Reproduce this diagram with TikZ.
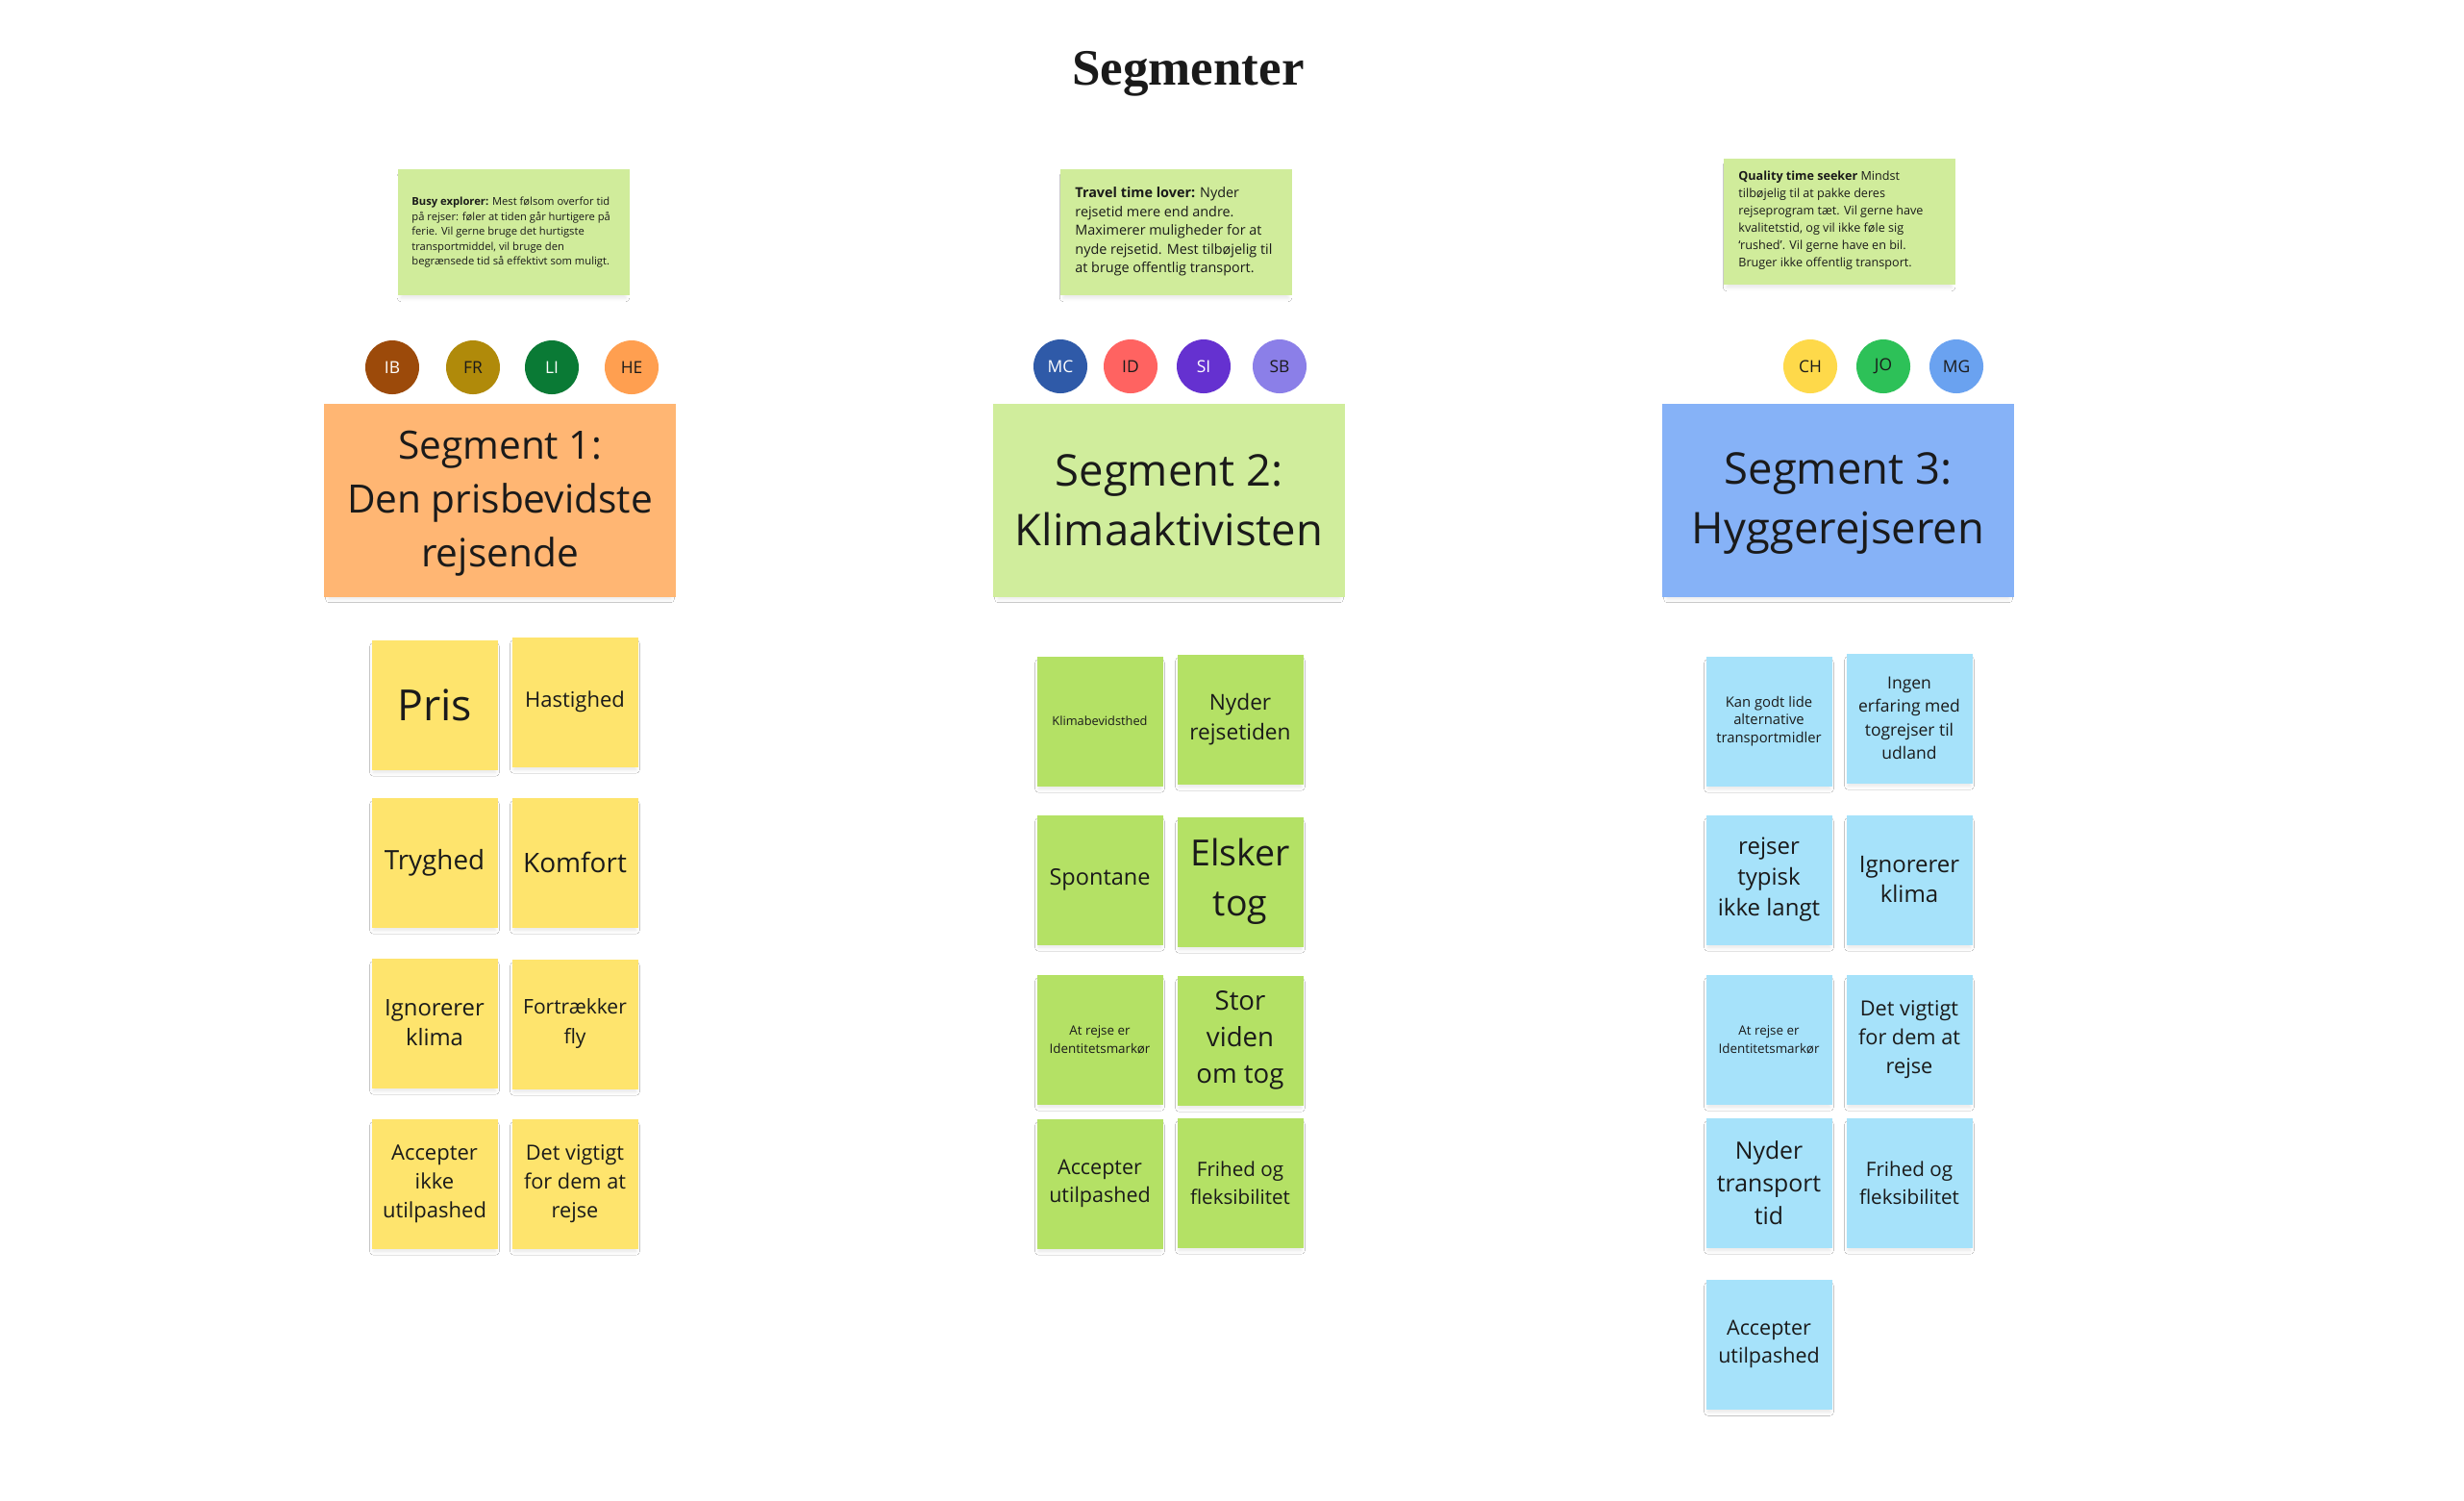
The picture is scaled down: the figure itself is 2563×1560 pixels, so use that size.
\documentclass[tikz,border=0pt]{standalone}
\usepackage{fontspec}
\setmainfont{Open Sans}
\newfontfamily\titlefont{Liberation Serif}
\usetikzlibrary{shadows.blur}
\definecolor{ink}{HTML}{1A1A1A}
\definecolor{notegreen}{HTML}{D0EC9B}
\definecolor{segorange}{HTML}{FFB673}
\definecolor{seggreen}{HTML}{D0ED9C}
\definecolor{segblue}{HTML}{86B2F7}
\definecolor{styellow}{HTML}{FEE46D}
\definecolor{stgreen}{HTML}{B4E165}
\definecolor{stblue}{HTML}{A6E2FA}
\definecolor{cIB}{HTML}{9C4A0A}
\definecolor{cFR}{HTML}{B08A0A}
\definecolor{cLI}{HTML}{0A7A35}
\definecolor{cHE}{HTML}{FF9F50}
\definecolor{cMC}{HTML}{2F5AA8}
\definecolor{cID}{HTML}{FF6361}
\definecolor{cSI}{HTML}{6531D0}
\definecolor{cSB}{HTML}{8B7FE8}
\definecolor{cCH}{HTML}{FED94A}
\definecolor{cJO}{HTML}{2DC158}
\definecolor{cMG}{HTML}{6AA2F0}
\newcommand\fsz[2]{\fontsize{#1}{#2}\selectfont}
\tikzset{
  softshadow/.style={blur shadow={shadow xshift=0pt, shadow yshift=-2.5pt, shadow scale=0.97, shadow blur radius=2pt, shadow blur steps=6, shadow opacity=10}},
  sticky/.style={minimum width=65.5pt, minimum height=67.5pt, inner sep=0pt, align=center, text=ink, softshadow},
  yst/.style={sticky, fill=styellow},
  gst/.style={sticky, fill=stgreen},
  bst/.style={sticky, fill=stblue},
  notebox/.style={minimum width=120.5pt, minimum height=65.5pt, inner sep=0pt, fill=notegreen, softshadow},
  notetext/.style={anchor=west, align=left, inner sep=0pt, text=ink},
  segbox/.style={minimum width=183pt, minimum height=100.5pt, inner sep=0pt, align=center, text=ink, softshadow},
  avatar/.style={circle, minimum size=28pt, inner sep=0pt, font=\fsz{8.7pt}{10pt}},
}
\begin{document}
\begin{tikzpicture}[x=0.5pt, y=-0.5pt]
\useasboundingbox[fill=white] (0,0) rectangle (2563,1560);

% title
\node[anchor=base, inner sep=0pt, text=ink] (title) at (1236,88) {\titlefont\bfseries\fsz{26.5pt}{30pt}Segmenter};

% persona notes
\node[notebox] (n1) at (534,241.5) {};
\node[notetext, font=\fsz{5.6pt}{7.75pt}] (n1t) at (428,242) {\textbf{Busy explorer:} Mest følsom overfor tid\\på rejser: føler at tiden går hurtigere på\\ferie. Vil gerne bruge det hurtigste\\transportmiddel, vil bruge den\\begrænsede tid så effektivt som muligt.};
\node[notebox] (n2) at (1223,241.5) {};
\node[notetext, font=\fsz{7.2pt}{9.8pt}] (n2t) at (1118,241) {\textbf{Travel time lover:} Nyder\\rejsetid mere end andre.\\Maximerer muligheder for at\\nyde rejsetid. Mest tilbøjelig til\\at bruge offentlig transport.};
\node[notebox] (n3) at (1913,230.5) {};
\node[notetext, font=\fsz{6.3pt}{9pt}] (n3t) at (1808,229) {\textbf{Quality time seeker} Mindst\\tilbøjelig til at pakke deres\\rejseprogram tæt. Vil gerne have\\kvalitetstid, og vil ikke føle sig\\‘rushed’. Vil gerne have en bil.\\Bruger ikke offentlig transport.};

% avatars
\node[avatar, fill=cIB, text=white] (IB) at (408,382) {IB};
\node[avatar, fill=cFR, text=ink] (FR) at (492,382) {FR};
\node[avatar, fill=cLI, text=white] (LI) at (574,382) {LI};
\node[avatar, fill=cHE, text=ink] (HE) at (657,382) {HE};
\node[avatar, fill=cMC, text=white] (MC) at (1103,381) {MC};
\node[avatar, fill=cID, text=ink] (ID) at (1176,381) {ID};
\node[avatar, fill=cSI, text=white] (SI) at (1252,381) {SI};
\node[avatar, fill=cSB, text=ink] (SB) at (1331,381) {SB};
\node[avatar, fill=cCH, text=ink] (CH) at (1883,381) {CH};
\node[avatar, fill=cJO, text=ink] (JO) at (1959,381) {JO};
\node[avatar, fill=cMG, text=ink] (MG) at (2035,381) {MG};

% segment headers
\node[segbox, fill=segorange] (s1) at (520,520.5) {};
\node[align=center, text=ink, inner sep=0pt, font=\fsz{20.3pt}{28pt}] (s1t) at (520,523.5) {Segment 1:\\Den prisbevidste\\rejsende};
\node[segbox, fill=seggreen] (s2) at (1216,520.5) {};
\node[align=center, text=ink, inner sep=0pt, font=\fsz{22.7pt}{31pt}] (s2t) at (1216,520.5) {Segment 2:\\Klimaaktivisten};
\node[segbox, fill=segblue] (s3) at (1912,520.5) {};
\node[align=center, text=ink, inner sep=0pt, font=\fsz{22.7pt}{31pt}] (s3t) at (1912,523.5) {Segment 3:\\Hyggerejseren};

% segment 1 stickies
\node[yst, font=\fsz{22.3pt}{26pt}] (p1) at (452,733) {Pris};
\node[yst, font=\fsz{11pt}{15pt}] (p2) at (598,730) {Hastighed};
\node[yst, font=\fsz{13.9pt}{17pt}] (p3) at (452,897) {Tryghed};
\node[yst, font=\fsz{14pt}{17pt}] (p4) at (598,897) {Komfort};
\node[yst, font=\fsz{11.9pt}{15.5pt}] (p5) at (452,1064) {Ignorerer\\klima};
\node[yst, font=\fsz{10.5pt}{15.5pt}] (p6) at (598,1065) {Fortrækker\\fly};
\node[yst, font=\fsz{11pt}{15pt}] (p7) at (452,1231) {Accepter\\ikke\\utilpashed};
\node[yst, font=\fsz{10.85pt}{15pt}] (p8) at (598,1231) {Det vigtigt\\for dem at\\rejse};

% segment 2 stickies
\node[gst, font=\fsz{6.4pt}{8pt}] (k1) at (1144,750) {Klimabevidsthed};
\node[gst, font=\fsz{11.35pt}{15.5pt}] (k2) at (1290,748) {Nyder\\rejsetiden};
\node[gst, font=\fsz{11.75pt}{15pt}] (k3) at (1144,915) {Spontane};
\node[gst, font=\fsz{18.75pt}{26pt}] (k4) at (1290,917) {Elsker\\tog};
\node[gst, font=\fsz{6.7pt}{9.5pt}] (k5) at (1144,1081) {At rejse er\\Identitetsmarkør};
\node[gst, font=\fsz{13.8pt}{19pt}] (k6) at (1290,1082) {Stor\\viden\\om tog};
\node[gst, font=\fsz{10.75pt}{14.5pt}] (k7) at (1144,1231) {Accepter\\utilpashed};
\node[gst, font=\fsz{10.3pt}{14.5pt}] (k8) at (1290,1230) {Frihed og\\fleksibilitet};

% segment 3 stickies
\node[bst, font=\fsz{7.4pt}{9.15pt}] (h1) at (1840,750) {Kan godt lide\\alternative\\transportmidler};
\node[bst, font=\fsz{8.75pt}{12.25pt}] (h2) at (1986,747) {Ingen\\erfaring med\\togrejser til\\udland};
\node[bst, font=\fsz{12pt}{16pt}] (h3) at (1840,915) {rejser\\typisk\\ikke langt};
\node[bst, font=\fsz{12pt}{15.5pt}] (h4) at (1986,915) {Ignorerer\\klima};
\node[bst, font=\fsz{6.7pt}{9.5pt}] (h5) at (1840,1081) {At rejse er\\Identitetsmarkør};
\node[bst, font=\fsz{10.85pt}{15pt}] (h6) at (1986,1081) {Det vigtigt\\for dem at\\rejse};
\node[bst, font=\fsz{12.4pt}{17pt}] (h7) at (1840,1230) {Nyder\\transport\\tid};
\node[bst, font=\fsz{10.3pt}{14.5pt}] (h8) at (1986,1230) {Frihed og\\fleksibilitet};
\node[bst, font=\fsz{10.75pt}{14.5pt}] (h9) at (1840,1398) {Accepter\\utilpashed};
\end{tikzpicture}
\end{document}
